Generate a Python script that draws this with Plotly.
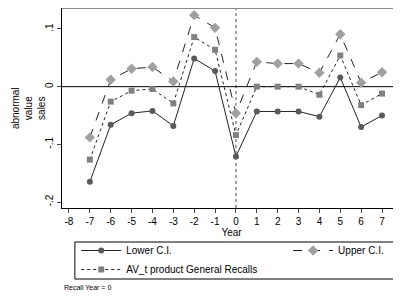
import plotly.graph_objects as go

years = [-7, -6, -5, -4, -3, -2, -1, 0, 1, 2, 3, 4, 5, 6, 7]
lower_ci = [-0.165, -0.066, -0.046, -0.042, -0.068, 0.049, 0.027, -0.121, -0.043, -0.043, -0.043, -0.052, 0.016, -0.070, -0.050]
upper_ci = [-0.088, 0.012, 0.031, 0.034, 0.009, 0.124, 0.102, -0.046, 0.043, 0.040, 0.040, 0.024, 0.091, 0.007, 0.025]
av_t = [-0.1265, -0.026, -0.007, -0.004, -0.029, 0.086, 0.064, -0.084, 0.000, 0.000, 0.000, -0.014, 0.054, -0.032, -0.012]

x_ticks = list(range(-8, 8))
x_ticktext = [str(v) for v in x_ticks]
y_ticks = [-0.2, -0.1, 0, 0.1]
y_ticktext = ["-.2", "-.1", "0", ".1"]

font = "Liberation Sans, Arial, sans-serif"

fig = go.Figure()
fig.add_trace(go.Scatter(
    x=years, y=lower_ci, name="Lower C.I.", mode="lines+markers",
    line=dict(color="#222222", width=1),
    marker=dict(symbol="circle", size=6, color="#5a5a5a"),
    legend="legend",
))
fig.add_trace(go.Scatter(
    x=years, y=upper_ci, name="Upper C.I.", mode="lines+markers",
    line=dict(color="#222222", width=1, dash="dash"),
    marker=dict(symbol="diamond", size=8, color="#a0a0a0"),
    legend="legend2",
))
fig.add_trace(go.Scatter(
    x=years, y=av_t, name="AV_t product General Recalls", mode="lines+markers",
    line=dict(color="#222222", width=1, dash="dot"),
    marker=dict(symbol="square", size=6, color="#808080"),
    legend="legend",
))

fig.add_vline(x=0, line=dict(color="#888888", width=1.5, dash="dot"), layer="below")
fig.add_hline(y=0, line=dict(color="black", width=1), layer="below")
fig.add_shape(type="line", xref="paper", yref="paper", x0=0, x1=1, y0=1, y1=1,
              line=dict(color="#888888", width=2))
# legend frame
fig.add_shape(type="rect", xref="paper", yref="paper", x0=0.038, x1=0.979, y0=-0.17, y1=-0.355,
              line=dict(color="black", width=1), fillcolor="rgba(0,0,0,0)")

# page body has an 8px margin, so the figure is 8px smaller than the window
fig.update_layout(
    width=393, height=289,
    margin=dict(l=54, r=0, t=0, b=89, autoexpand=False),
    paper_bgcolor="white", plot_bgcolor="white",
    font=dict(family=font, size=10, color="black"),
    showlegend=True,
    legend=dict(
        orientation="v", x=0.042, y=-0.14, xanchor="left", yanchor="top",
        borderwidth=0, bgcolor="rgba(0,0,0,0)", font=dict(size=10),
        itemwidth=40, traceorder="normal",
    ),
    legend2=dict(
        orientation="v", x=0.667, y=-0.14, xanchor="left", yanchor="top",
        borderwidth=0, bgcolor="rgba(0,0,0,0)", font=dict(size=10),
        itemwidth=40,
    ),
    annotations=[
        dict(text="Recall Year = 0", xref="paper", yref="paper", x=0.0, y=-0.395,
             xanchor="left", yanchor="middle", showarrow=False, font=dict(size=7)),
        dict(text="abnormal<br>value<br>sales", xref="paper", yref="paper", x=-0.1, y=0.5,
             xanchor="center", yanchor="middle", showarrow=False, textangle=-90,
             font=dict(size=10)),
    ],
)
fig.update_xaxes(
    range=[-8.335, 7.91], tickvals=x_ticks, ticktext=x_ticktext, ticks="outside", ticklen=4,
    showgrid=False, zeroline=False, showline=True, linecolor="black", linewidth=1,
    title=dict(text="Year", standoff=2, font=dict(size=10)), automargin=False,
    tickfont=dict(size=10),
)
fig.update_yaxes(
    range=[-0.2104, 0.1364], tickvals=y_ticks, ticktext=y_ticktext, ticks="outside",
    ticklen=4, tickangle=-90, automargin=False,
    showgrid=False, zeroline=False, showline=True, linecolor="black", linewidth=1,
    tickfont=dict(size=10),
)

fig.write_html("out.html")
